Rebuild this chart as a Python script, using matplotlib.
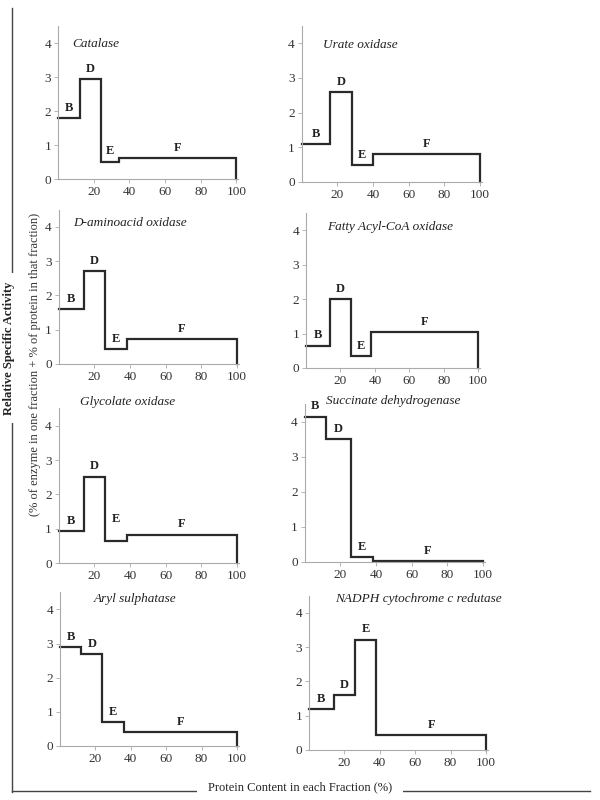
import numpy as np
import matplotlib.pyplot as plt
from matplotlib.lines import Line2D

plt.rcParams['font.family'] = ['Liberation Serif', 'DejaVu Serif']

# fraction letters, boundaries (% protein content) and relative specific activity
fractions = ['B', 'D', 'E', 'F']

catalase_edges = [0, 12, 24, 34, 100]
catalase_vals = [1.8, 2.95, 0.52, 0.63]

urate_edges = [0, 16, 28, 40, 100]
urate_vals = [1.1, 2.6, 0.5, 0.8]

daao_edges = [0, 14, 26, 38, 100]
daao_vals = [1.6, 2.7, 0.43, 0.72]

acyl_edges = [0, 14, 26, 38, 100]
acyl_vals = [0.65, 2.0, 0.35, 1.03]

glycolate_edges = [0, 14, 26, 38, 100]
glycolate_vals = [0.93, 2.52, 0.64, 0.83]

succinate_edges = [0, 12, 26, 38, 100]
succinate_vals = [4.15, 3.5, 0.13, 0.03]

aryl_edges = [0, 12, 24, 36, 100]
aryl_vals = [2.9, 2.7, 0.7, 0.4]

nadph_edges = [0, 14, 26, 38, 100]
nadph_vals = [1.2, 1.6, 3.22, 0.43]

x_ticks = [20, 40, 60, 80, 100]
y_ticks = [0, 1, 2, 3, 4]

# (title, edges, values, axes rect, title x/y in data units)
panels = [
    ('Catalase', catalase_edges, catalase_vals, [0.097, 0.776, 0.30, 0.191], (8, 3.98)),
    ('Urate oxidase', urate_edges, urate_vals, [0.503, 0.7725, 0.30, 0.195], (12, 3.95)),
    ('D-aminoacid oxidase', daao_edges, daao_vals, [0.098, 0.545, 0.30, 0.193], (8, 4.1)),
    ('Fatty Acyl-CoA oxidase', acyl_edges, acyl_vals, [0.51, 0.54, 0.29, 0.194], (12, 4.1)),
    ('Glycolate oxidase', glycolate_edges, glycolate_vals, [0.098, 0.296, 0.30, 0.1935], (12, 4.68)),
    ('Succinate dehydrogenase', succinate_edges, succinate_vals, [0.508, 0.2975, 0.30, 0.197], (12, 4.6)),
    ('Aryl sulphatase', aryl_edges, aryl_vals, [0.10, 0.0675, 0.298, 0.192], (19, 4.3)),
    ('NADPH cytochrome c redutase', nadph_edges, nadph_vals, [0.515, 0.0625, 0.298, 0.193], (14.5, 4.4)),
]

fig = plt.figure(figsize=(6, 8), dpi=100)

for title, edges, vals, rect, (tx, ty) in panels:
    ax = fig.add_axes(rect)
    xs = np.repeat(edges, 2)[1:]
    ys = np.append(np.repeat(vals, 2), 0)
    ax.plot(xs, ys, color='#2a2a2a', lw=1.6, solid_joinstyle='miter', clip_on=False)

    for i, letter in enumerate(fractions):
        mid = (edges[i] + edges[i + 1]) / 2
        lift = 12 if (title == 'Glycolate oxidase' and letter == 'E') else 3
        ax.annotate(letter, (mid, vals[i]), xytext=(0, lift), textcoords='offset points',
                    ha='center', va='bottom', fontsize=9, fontweight='bold', color='#222')

    ax.text(tx, ty, title, fontsize=9.5, style='italic', color='#222', ha='left', va='center')

    ax.set_xlim(0, 101)
    ax.set_ylim(0, 4.5)
    ax.set_xticks(x_ticks)
    ax.set_yticks(y_ticks)
    for s in ['top', 'right']:
        ax.spines[s].set_visible(False)
    for s in ['left', 'bottom']:
        ax.spines[s].set_color('#aaaaaa')
        ax.spines[s].set_linewidth(0.8)
    ax.tick_params(length=3, width=0.6, color='#aaaaaa', labelsize=9.5,
                   labelcolor='#333', pad=2)
    ax.patch.set_alpha(0)

# outer frame with axis captions
fig.add_artist(Line2D([0.02, 0.02], [0.01, 0.99], transform=fig.transFigure,
                      color='#444', lw=1))
fig.add_artist(Line2D([0.02, 0.983], [0.011, 0.011], transform=fig.transFigure,
                      color='#444', lw=1))
fig.text(0.015, 0.565, 'Relative Specific Activity', rotation=90, ha='center', va='center',
         fontsize=9, fontweight='bold', color='#222',
         bbox=dict(facecolor='white', edgecolor='none', pad=6))
fig.text(0.058, 0.545, '(% of enzyme in one fraction + % of protein in that fraction)',
         rotation=90, ha='center', va='center', fontsize=9, color='#333')
fig.text(0.5, 0.016, 'Protein Content in each Fraction (%)', ha='center', va='center',
         fontsize=9, color='#222',
         bbox=dict(facecolor='white', edgecolor='none', pad=8))

fig.savefig('out.png', dpi=100, facecolor='white')
